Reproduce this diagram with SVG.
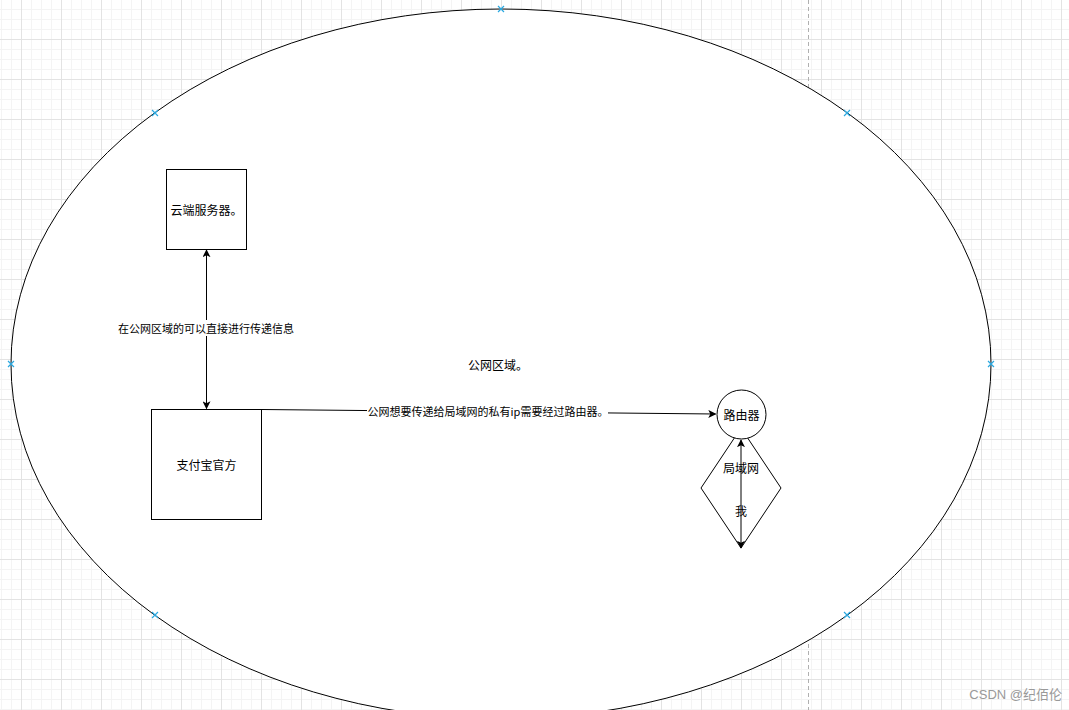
<svg xmlns="http://www.w3.org/2000/svg" width="1069" height="710" viewBox="0 0 1069 710">
<defs>
<pattern id="minor" width="10" height="10" patternUnits="userSpaceOnUse" x="1" y="9">
<path d="M0 0.5H10M0.5 0V10" fill="none" stroke="#f4f4f4" stroke-width="1"/>
</pattern>
<pattern id="major" width="40" height="40" patternUnits="userSpaceOnUse" x="21" y="39">
<path d="M0 0.5H40M0.5 0V40" fill="none" stroke="#e3e3e3" stroke-width="1"/>
</pattern>
<marker id="arr" viewBox="0 0 10 10" refX="9" refY="5" markerWidth="8" markerHeight="8" orient="auto-start-reverse" markerUnits="userSpaceOnUse">
<path d="M0 0L10 5L0 10L2.5 5Z" fill="#000"/>
</marker>
</defs>
<style>
.t{font-family:"Noto Sans CJK SC","Liberation Sans",sans-serif;font-size:12px;fill:#000;text-anchor:middle;dominant-baseline:central}
.e{font-size:11px}
.n{fill:#fff;stroke:#000;stroke-width:1}
.c{fill:none;stroke:#000;stroke-width:1}
.x{stroke:#29a8e0;stroke-width:1.2}
</style>
<rect width="1069" height="710" fill="#fff"/>
<rect width="1069" height="710" fill="url(#minor)"/>
<rect width="1069" height="710" fill="url(#major)"/>
<line x1="808.5" y1="0" x2="808.5" y2="710" stroke="#b0b0b0" stroke-dasharray="4 3"/>
<g id="public-zone">
<ellipse class="n" cx="501" cy="364" rx="490" ry="355"/>
<text class="t" x="498" y="364">公网区域。</text>
<g class="x">
<path d="M498 6l6 6M504 6l-6 6"/>
<path d="M152 110l6 6M158 110l-6 6"/>
<path d="M844 110l6 6M850 110l-6 6"/>
<path d="M152 612l6 6M158 612l-6 6"/>
<path d="M844 612l6 6M850 612l-6 6"/>
<path d="M8 361l6 6M14 361l-6 6"/>
<path d="M988 361l6 6M994 361l-6 6"/>
</g>
</g>
<g id="lan">
<polygon class="n" points="741,428 781,488 741,548 701,488"/>
<text class="t" x="741" y="467">局域网</text>
</g>
<g id="cloud-server">
<rect class="n" x="166.5" y="169.5" width="80" height="80"/>
<text class="t" x="206.5" y="209.5">云端服务器。</text>
</g>
<g id="alipay">
<rect class="n" x="151.5" y="409.5" width="110" height="110"/>
<text class="t" x="206.5" y="464.5">支付宝官方</text>
</g>
<g id="connectors">
<line class="c" x1="206.5" y1="250" x2="206.5" y2="408.5" marker-start="url(#arr)" marker-end="url(#arr)"/>
<rect x="117" y="320" width="178" height="16" fill="#fff"/>
<text class="t e" x="206" y="328">在公网区域的可以直接进行传递信息</text>
<line class="c" x1="262" y1="409.5" x2="715.5" y2="414" marker-end="url(#arr)"/>
<rect x="367" y="403" width="241" height="16" fill="#fff"/>
<text class="t e" x="488" y="411">公网想要传递给局域网的私有ip需要经过路由器。</text>
<line class="c" x1="741" y1="440" x2="741" y2="548" marker-start="url(#arr)" marker-end="url(#arr)"/>
<text class="t" x="741" y="510">我</text>
</g>
<g id="router">
<circle class="n" cx="741.5" cy="414.5" r="24.5"/>
<text class="t" x="741.5" y="414">路由器</text>
</g>
<text x="1062" y="694" font-family="Liberation Sans,Noto Sans CJK SC,sans-serif" font-size="13" fill="#999" text-anchor="end" dominant-baseline="central">CSDN @纪佰伦</text>
</svg>
